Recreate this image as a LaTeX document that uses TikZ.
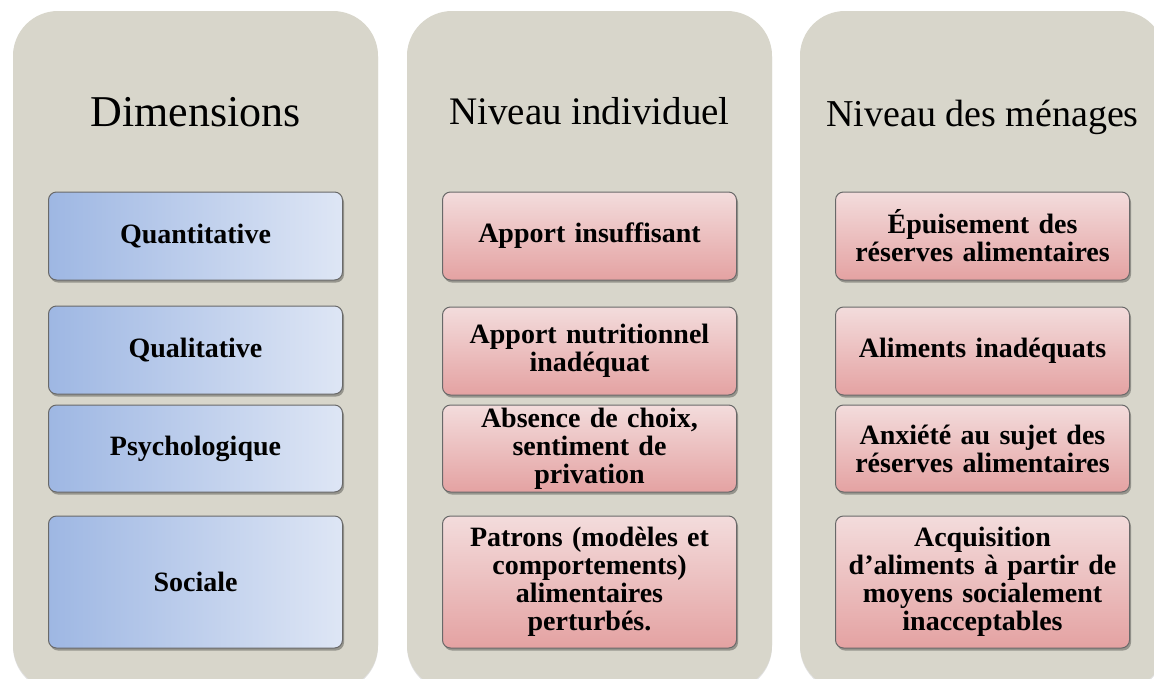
\documentclass[tikz,border=0pt]{standalone}
\usepackage{fontspec}
\setmainfont{Liberation Serif}
\usepackage{xcolor}
\usepackage{tikz,pgffor}
\usetikzlibrary{shadows}
\definecolor{PanelGray}{RGB}{216,214,203}
\definecolor{DimLeft}{RGB}{158,183,227}
\definecolor{DimRight}{RGB}{222,230,245}
\definecolor{LevTop}{RGB}{243,220,220}
\definecolor{LevBottom}{RGB}{228,162,162}
\definecolor{BoxLine}{RGB}{105,105,105}
\tikzset{
	MyPanel/.style={fill=PanelGray,rounded corners=45pt,
    drop shadow={shadow xshift=0pt,shadow yshift=-1.5pt,fill=black,opacity=.12}},
	MyTitle/.style={anchor=base,inner sep=0pt},
	MyBox/.style={draw=BoxLine,line width=1pt,rounded corners=8pt,
    align=center,inner xsep=6pt,inner ysep=0pt,text width=282pt,
    minimum height=88pt,font=\bfseries\fontsize{28}{28}\selectfont,
    drop shadow={shadow xshift=1.5pt,shadow yshift=-2.5pt,fill=black,opacity=.3}},
	MyDim/.style={MyBox,left color=DimLeft,right color=DimRight},
	MyLevel/.style={MyBox,top color=LevTop,bottom color=LevBottom}
		}
\begin{document}
\begin{tikzpicture}[x=1pt,y=-1pt]
	\useasboundingbox (0,0) rectangle (1154,678);
	\clip (0,0) rectangle (1154,678);
	\def\pw{365}% width of a panel
	\def\cA{195.5}% centre of the three columns
	\def\cB{589.5}
	\def\cC{982.5}

	% the three panels
	\foreach \x in {13,407,800}
		{\path[MyPanel] (\x,11) rectangle ++(\pw,679);}

	% titles
	\node[MyTitle,font=\fontsize{44}{44}\selectfont] (tDim) at (\cA,126) {Dimensions};
	\node[MyTitle,font=\fontsize{39}{39}\selectfont] (tInd) at (\cB,124) {Niveau individuel};
	\node[MyTitle,font=\fontsize{38}{38}\selectfont] (tMen) at (\cC,126) {Niveau des ménages};

	% dimensions
	\node[MyDim] (dQuant) at (\cA,236) {Quantitative};
	\node[MyDim] (dQual) at (\cA,350) {Qualitative};
	\node[MyDim,minimum height=87pt] (dPsy) at (\cA,448.5) {Psychologique};
	\node[MyDim,minimum height=132pt] (dSoc) at (\cA,582) {Sociale};

	% individual level
	\node[MyLevel] (iInsuf) at (\cB,236) {Apport insuffisant};
	\node[MyLevel] (iNutri) at (\cB,351) {Apport nutritionnel\\inadéquat};
	\node[MyLevel,minimum height=87pt] (iChoix) at (\cB,448.5)
		{Absence de choix,\\sentiment de\\privation};
	\node[MyLevel,minimum height=132pt] (iPatrons) at (\cB,582)
		{Patrons (modèles et\\comportements)\\alimentaires\\perturbés.};

	% household level
	\node[MyLevel] (mEpuis) at (\cC,236) {Épuisement des\\réserves alimentaires};
	\node[MyLevel] (mInadeq) at (\cC,351) {Aliments inadéquats};
	\node[MyLevel,minimum height=87pt] (mAnx) at (\cC,448.5)
		{Anxiété au sujet des\\réserves alimentaires};
	\node[MyLevel,minimum height=132pt] (mAcq) at (\cC,582)
		{Acquisition\\d’aliments à partir de\\moyens socialement\\inacceptables};
\end{tikzpicture}
\end{document}
